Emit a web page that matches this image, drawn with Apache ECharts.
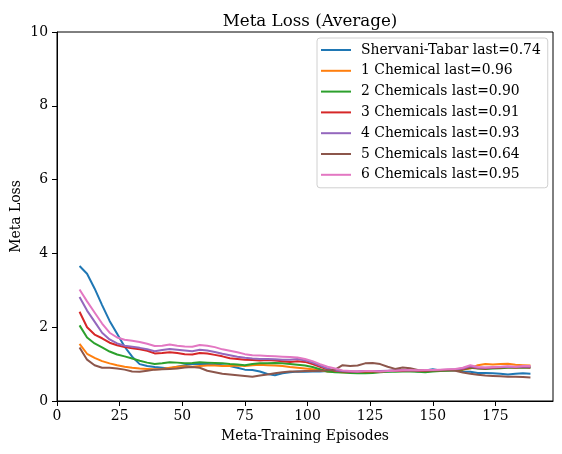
<!DOCTYPE html>
<html>
<head>
<meta charset="utf-8">
<script src="https://cdn.jsdelivr.net/npm/echarts@6/dist/echarts.min.js"></script>
<style>
  html, body { margin: 0; padding: 0; background: #fff; }
  #chart { width: 562px; height: 454px; }
</style>
</head>
<body>
<div id="chart"></div>
<script>
// episodes (x) shared by every series
const episodes = [9, 12, 15, 18, 21, 24, 27, 30, 33, 36, 39, 42, 45, 48, 51, 54, 57, 60, 63, 66,
  69, 72, 75, 78, 81, 84, 87, 90, 93, 96, 99, 102, 105, 108, 111, 114, 117, 120, 123, 126,
  129, 132, 135, 138, 141, 144, 147, 150, 153, 156, 159, 162, 165, 168, 171, 174, 177, 180, 183, 186, 189];

const shervani = [3.66, 3.45, 3.05, 2.6, 2.17, 1.82, 1.47, 1.2, 1.0, 0.95, 0.92, 0.9, 0.88, 0.93, 0.97, 1.0, 1.0, 1.0, 0.99, 0.97,
  0.95, 0.9, 0.85, 0.84, 0.8, 0.73, 0.7, 0.75, 0.78, 0.8, 0.79, 0.8, 0.8, 0.81, 0.8, 0.79, 0.79, 0.78, 0.8, 0.8,
  0.79, 0.8, 0.82, 0.82, 0.83, 0.8, 0.83, 0.86, 0.83, 0.84, 0.83, 0.8, 0.79, 0.76, 0.76, 0.75, 0.74, 0.72, 0.74, 0.75, 0.74];
const chem1 = [1.55, 1.28, 1.17, 1.08, 1.02, 0.97, 0.93, 0.9, 0.88, 0.87, 0.86, 0.87, 0.9, 0.93, 0.94, 0.93, 0.95, 0.96, 0.96, 0.95,
  0.95, 0.96, 0.95, 0.97, 0.98, 0.97, 0.96, 0.95, 0.92, 0.9, 0.88, 0.86, 0.83, 0.8, 0.79, 0.78, 0.78, 0.77, 0.78, 0.8,
  0.8, 0.81, 0.82, 0.83, 0.82, 0.81, 0.8, 0.82, 0.83, 0.83, 0.84, 0.85, 0.88, 0.97, 1.0, 0.99, 1.0, 1.01, 0.98, 0.97, 0.96];
const chem2 = [2.05, 1.72, 1.56, 1.45, 1.34, 1.26, 1.21, 1.15, 1.09, 1.04, 1.0, 1.02, 1.05, 1.04, 1.02, 1.03, 1.05, 1.04, 1.03, 1.02,
  1.0, 0.99, 0.97, 1.0, 1.02, 1.02, 1.03, 1.02, 1.0, 0.98, 0.96, 0.92, 0.86, 0.8, 0.78, 0.77, 0.76, 0.75, 0.75, 0.76,
  0.78, 0.79, 0.79, 0.8, 0.8, 0.79, 0.78, 0.8, 0.81, 0.82, 0.83, 0.85, 0.9, 0.88, 0.87, 0.88, 0.89, 0.9, 0.9, 0.91, 0.9];
const chem3 = [2.42, 2.0, 1.8, 1.7, 1.58, 1.51, 1.46, 1.43, 1.4, 1.36, 1.29, 1.3, 1.32, 1.3, 1.27, 1.26, 1.3, 1.29, 1.25, 1.21,
  1.16, 1.14, 1.12, 1.11, 1.1, 1.11, 1.1, 1.08, 1.06, 1.08, 1.06, 1.0, 0.93, 0.86, 0.82, 0.8, 0.79, 0.79, 0.8, 0.8,
  0.8, 0.81, 0.82, 0.82, 0.83, 0.82, 0.82, 0.83, 0.83, 0.84, 0.85, 0.86, 0.92, 0.89, 0.88, 0.9, 0.91, 0.92, 0.91, 0.92, 0.91];
const chem4 = [2.82, 2.45, 2.15, 1.85, 1.67, 1.56, 1.5, 1.47, 1.44, 1.4, 1.35, 1.38, 1.41, 1.39, 1.37, 1.35, 1.39, 1.37, 1.33, 1.28,
  1.24, 1.2, 1.17, 1.15, 1.14, 1.14, 1.13, 1.12, 1.12, 1.14, 1.1, 1.04, 0.96, 0.88, 0.83, 0.81, 0.8, 0.8, 0.81, 0.81,
  0.81, 0.82, 0.83, 0.83, 0.84, 0.83, 0.83, 0.84, 0.84, 0.85, 0.86, 0.88, 0.94, 0.9, 0.9, 0.91, 0.92, 0.93, 0.92, 0.93, 0.93];
const chem5 = [1.45, 1.12, 0.97, 0.9, 0.9, 0.88, 0.85, 0.8, 0.79, 0.82, 0.85, 0.86, 0.87, 0.88, 0.91, 0.92, 0.9, 0.82, 0.78, 0.74,
  0.72, 0.7, 0.68, 0.66, 0.69, 0.72, 0.75, 0.78, 0.8, 0.8, 0.81, 0.81, 0.82, 0.83, 0.85, 0.97, 0.95, 0.96, 1.02, 1.03,
  1.0, 0.93, 0.87, 0.91, 0.89, 0.84, 0.83, 0.83, 0.84, 0.83, 0.82, 0.77, 0.74, 0.71, 0.69, 0.68, 0.67, 0.66, 0.66, 0.65, 0.64];
const chem6 = [3.02, 2.7, 2.4, 2.1, 1.85, 1.72, 1.66, 1.63, 1.6, 1.55, 1.49, 1.5, 1.53, 1.5, 1.48, 1.47, 1.52, 1.5, 1.46, 1.4,
  1.36, 1.32, 1.27, 1.24, 1.23, 1.22, 1.21, 1.2, 1.19, 1.18, 1.14, 1.08, 1.0, 0.93, 0.88, 0.83, 0.81, 0.8, 0.81, 0.81,
  0.8, 0.81, 0.82, 0.83, 0.84, 0.83, 0.84, 0.84, 0.85, 0.86, 0.87, 0.9, 0.97, 0.92, 0.91, 0.92, 0.93, 0.94, 0.93, 0.95, 0.95];

const seriesNames = ['Shervani-Tabar last=0.74', '1 Chemical last=0.96', '2 Chemicals last=0.90',
  '3 Chemicals last=0.91', '4 Chemicals last=0.93', '5 Chemicals last=0.64', '6 Chemicals last=0.95'];
const seriesValues = [shervani, chem1, chem2, chem3, chem4, chem5, chem6];
const colors = ['#1f77b4', '#ff7f0e', '#2ca02c', '#d62728', '#9467bd', '#8c564b', '#e377c2'];

const font = 'DejaVu Serif';

const chart = echarts.init(document.getElementById('chart'), null, { renderer: 'canvas' });

const option = {
  animation: false,
  color: colors,
  title: {
    text: 'Meta Loss (Average)',
    left: 305,
    top: 8,
    textAlign: 'center',
    textStyle: { fontFamily: font, fontSize: 16.7, fontWeight: 'normal', color: '#000' }
  },
  legend: {
    orient: 'vertical',
    left: 317,
    top: 38,
    icon: 'rect',
    itemWidth: 30,
    itemHeight: 2,
    itemGap: 6.8,
    padding: [5, 7, 6, 4],
    backgroundColor: 'rgba(255,255,255,0.8)',
    borderColor: '#d0d0d0',
    borderWidth: 1,
    borderRadius: 3,
    textStyle: { fontFamily: font, fontSize: 13.9, color: '#000', padding: [0, 0, 0, 5], lineHeight: 14 },
    data: seriesNames
  },
  grid: {
    left: 57,
    right: 9,
    top: 32,
    bottom: 53,
    outerBoundsMode: 'none',
    containLabel: false,
    show: true,
    borderColor: '#000',
    borderWidth: 1,
    backgroundColor: '#fff'
  },
  xAxis: {
    type: 'value',
    min: 0,
    max: 198,
    interval: 25,
    name: 'Meta-Training Episodes',
    nameLocation: 'middle',
    nameGap: 28,
    nameMoveOverlap: false,
    nameTextStyle: { fontFamily: font, fontSize: 13.9, color: '#000' },
    axisLine: { show: true, onZero: false, lineStyle: { color: '#000', width: 1 } },
    axisTick: { show: true, length: 5, lineStyle: { color: '#000' } },
    axisLabel: {
      fontFamily: font, fontSize: 13.9, color: '#000', margin: 8,
      showMaxLabel: false
    },
    splitLine: { show: false }
  },
  yAxis: {
    type: 'value',
    min: 0,
    max: 10,
    interval: 2,
    name: 'Meta Loss',
    nameLocation: 'middle',
    nameGap: 34,
    nameMoveOverlap: false,
    nameTextStyle: { fontFamily: font, fontSize: 13.9, color: '#000' },
    axisLine: { show: true, lineStyle: { color: '#000', width: 1 } },
    axisTick: { show: true, length: 5, lineStyle: { color: '#000' } },
    axisLabel: { fontFamily: font, fontSize: 13.9, color: '#000', margin: 9 },
    splitLine: { show: false }
  },
  series: seriesNames.map((name, i) => ({
    name: name,
    type: 'line',
    symbol: 'none',
    lineStyle: { width: 2, color: colors[i] },
    itemStyle: { color: colors[i] },
    data: episodes.map((ep, j) => [ep, seriesValues[i][j]])
  }))
};

chart.setOption(option);
</script>
</body>
</html>
